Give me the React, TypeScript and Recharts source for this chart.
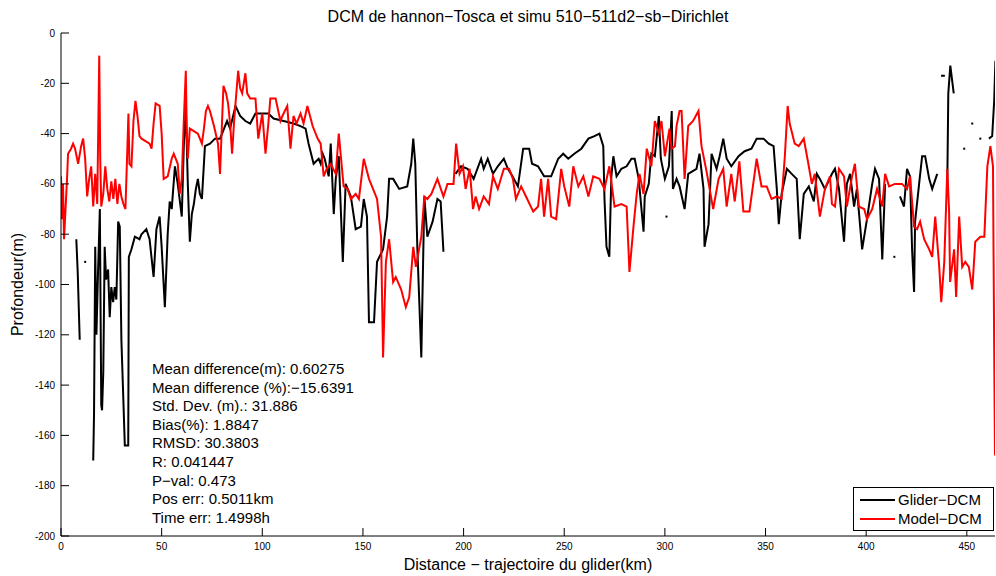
import React from 'react';
import { ComposedChart, Line, Scatter, XAxis, YAxis } from 'recharts';

const TITLE = 'DCM de hannon\u2212Tosca et simu 510\u2212511d2\u2212sb\u2212Dirichlet';
const X_LABEL = 'Distance \u2212 trajectoire du glider(km)';
const Y_LABEL = 'Profondeur(m)';
const GLIDER_NAME = 'Glider\u2212DCM';
const MODEL_NAME = 'Model\u2212DCM';

const X_TICKS = [0, 50, 100, 150, 200, 250, 300, 350, 400, 450];
const Y_TICKS = [-200, -180, -160, -140, -120, -100, -80, -60, -40, -20, 0];

const STATS = [
  'Mean difference(m): 0.60275',
  'Mean difference (%):\u221215.6391',
  'Std. Dev. (m).: 31.886',
  'Bias(%): 1.8847',
  'RMSD: 30.3803',
  'R: 0.041447',
  'P\u2212val: 0.473',
  'Pos err: 0.5011km',
  'Time err: 1.4998h',
];

// Model (red) DCM series
const modelKm = [
  0, 0.5, 1, 1.5, 2.5, 3, 3.5, 5, 6, 7, 8.5, 10, 11, 12, 13, 14, 15, 16, 17, 18, 19, 19.5, 20, 21, 22, 23, 24, 25, 26, 27, 28, 29, 30, 31, 32, 33, 33.5, 34, 35, 36, 37, 38, 39, 40, 42, 44, 45, 46, 47, 49, 50, 51, 53, 55, 56, 58, 59, 60, 61, 62, 62.5, 63, 64, 66, 68, 70, 71, 72, 73, 74, 76, 78, 79, 80.7, 82, 83, 84, 85, 86, 88, 89, 90, 91.6, 92.5, 94, 96.6, 98, 100, 101.6, 103, 104, 106.6, 109, 110, 112.4, 114, 115.5, 117, 119, 120.5, 122.4, 125, 127.5, 129, 130.5, 132, 134, 136.5, 138, 140.4, 142.4, 144, 146.4, 148, 150.4, 153, 155, 157, 159, 160, 161.4, 163, 165, 166.3, 169, 171.3, 173, 175, 176.3, 179, 180.5, 182, 184, 187, 190, 192, 195, 196.3, 198, 199.7, 201, 203, 204.7, 206, 207.7, 210, 212.6, 214.6, 217, 220, 222.6, 224.5, 226, 228.6, 231, 234.6, 237, 238.5, 240, 242, 243.5, 246, 248.5, 250, 252.5, 254.5, 257, 259.5, 262, 264.4, 267.5, 270, 272.4, 275, 278.4, 281, 282.4, 284.4, 286, 287.4, 289.4, 291, 293.3, 295, 297, 298.3, 300, 302.3, 303.3, 305, 305.8, 307.3, 308.3, 309.8, 311.6, 314, 316.7, 318.2, 320.7, 324, 326.7, 329, 330.7, 333, 334.7, 337, 339, 342, 345.6, 348, 350.6, 353, 355.6, 358, 359.6, 361, 362, 364.5, 366.5, 369, 371.5, 373, 374.5, 377, 379.5, 382, 383, 384.5, 386.5, 389, 390.4, 393, 394.4, 396.4, 399, 400.4, 403, 405.4, 408, 409.4, 411.4, 414.3, 417.8, 420.3, 421.8, 423.8, 425.3, 426.8, 428.8, 431.3, 432.8, 434.3, 436.3, 437.3, 438.8, 440.3, 441.2, 441.7, 443.7, 444.7, 446.2, 447.7, 449.2, 451, 452.7, 454.2, 456.7, 458.7, 460.2, 461.7, 463, 463.6, 464,
];
const modelDepth = [
  -57, -74, -60, -82, -66, -58, -48, -46, -44, -46, -52, -45, -42, -50, -65, -58, -53, -69, -56, -68, -9, -50, -69, -64, -53, -62, -67, -59, -66, -58, -68, -60, -65, -68, -70, -45, -32, -52, -53, -35, -27, -33, -41, -42, -43, -44, -46, -36, -28, -29, -40, -58, -57, -50, -48, -52, -64, -58, -35, -15, -40, -50, -38, -39, -40, -44, -38, -31, -29, -31, -37, -44, -56, -21, -24, -28, -36, -48, -35, -15, -22, -24, -16, -24, -26, -26, -42, -32, -48, -36, -26, -26, -35, -33, -29, -46, -33, -36, -32, -36, -29, -37, -42, -44, -57, -54, -52, -56, -40, -61, -62, -66, -64, -66, -50, -58, -62, -66, -81, -129, -91, -82, -99, -97, -102, -109, -105, -85, -93, -81, -65, -66, -64, -58, -65, -60, -60, -44, -56, -53, -62, -54, -70, -65, -70, -65, -68, -57, -62, -54, -54, -58, -66, -61, -65, -71, -69, -58, -73, -58, -73, -74, -54, -61, -69, -53, -61, -57, -65, -57, -58, -62, -53, -69, -68, -69, -95, -77, -64, -56, -64, -46, -53, -35, -40, -35, -49, -38, -46, -45, -37, -31, -31, -58, -37, -35, -31, -45, -55, -70, -58, -54, -69, -56, -67, -51, -71, -71, -50, -61, -61, -66, -65, -66, -49, -29, -36, -44, -45, -42, -53, -60, -56, -73, -62, -57, -68, -69, -54, -57, -69, -57, -52, -69, -70, -74, -70, -62, -69, -56, -61, -60, -60, -62, -57, -77, -78, -75, -82, -86, -89, -73, -93, -107, -91, -54, -71, -99, -86, -105, -73, -93, -91, -93, -102, -83, -81, -81, -53, -45, -53, -126, -168,
];

// Glider (black) DCM series, null = gap in the measurements
const gliderKm = [
  7.6, 8.3, 9.3, 10,
  16, 16.4, 17, 17.6, 18.4, 19.3, 20, 20.4, 21, 21.7, 22.4, 23.4, 24.2, 25, 25.9, 26.7, 27.5, 28.4, 29.2, 30, 30.9, 31.7, 33.4, 33.7, 35, 36.7, 39, 40, 42.4, 44, 46, 47.4, 49, 50, 51.6, 53, 54, 55, 56.6, 58, 60, 61, 62, 63, 64, 65, 66, 67, 68, 69, 70, 71.5, 74, 76.5, 79, 82.5, 84, 86.7, 89, 91.6, 94, 96.6, 100.6, 103, 105.6, 110.6, 115.5, 119, 121.5, 123, 125.5, 128, 129, 130, 131, 133, 134, 135.5, 136.5, 138, 140, 141.4, 144, 146.4, 149, 150.4, 152, 153, 155.5, 157, 160, 162, 163, 165, 168, 172, 174, 175, 176, 177, 179, 180.5, 182, 184.6, 187, 188.6, 190, 191,
  196, 198.7, 202, 205, 208.7, 210, 212, 214.6, 217, 220, 222, 223.6, 227, 229.6, 232.6, 234, 237, 240, 243.5, 247, 249.5, 252, 255, 258.5, 262, 265, 267.5, 269.4, 270, 271, 272.4, 273.4, 274.4, 276, 278.4, 281, 283.4, 285, 287, 289.4, 290, 292, 293.3, 295, 297, 298, 300, 302, 303.4, 304, 305.8, 307.3, 309.8, 311.6, 315.7, 317.2, 319.2, 319.7, 321.7, 323.2, 325.7, 327.2, 329, 330.7, 333, 336.6, 339.6, 343, 345.6, 349, 351.6, 354, 355.6, 356.6, 358, 360.6, 363, 365.5, 367, 369, 371.5, 374, 375.5, 377, 379.5, 383, 384.5, 386.5, 389, 390.4, 392, 394, 395.4, 398, 400.4, 403, 404.4, 406.4, 408, 409.4, 410,
  416.8, 418.8, 420.3, 421.8, 422.8, 423.8, 424.3, 426.3, 427.8, 429.3, 431.3, 432.8, 435.3, 436,
  440.3, 440.8, 441.8, 443.5, 444,
  461, 462.6, 463.6, 464.2, 464.6,
];
const gliderDepth = [
  -82, -95, -122, null,
  -170, -152, -85, -120, -95, -70, -148, -150, -135, -85, -98, -94, -113, -101, -107, -101, -106, -75, -77, -122, -144, -164, -164, -89, -86, -81, -82, -80, -78, -82, -97, -78, -73, -85, -109, -80, -67, -70, -53, -60, -73, -45, -29, -60, -83, -72, -68, -62, -58, -64, -66, -45, -44, -42, -42, -35, -38, -29, -33, -35, -36, -32, -32, -32, -34, -35, -36, -37, -38, -44, -52, -50, -52, -48, -50, -57, -44, -72, -58, -49, -91, -60, -65, -78, -77, -66, -73, -115, -115, -91, -86, -73, -58, -58, -62, -61, -52, -42, -52, -85, -129, -65, -81, -75, -66, -67, -87, null,
  -56, -53, -54, -58, -50, -54, -50, -56, -53, -50, -54, -56, -61, -46, -46, -52, -53, -57, -57, -50, -48, -50, -48, -46, -42, -41, -40, -45, -66, -85, -89, -57, -49, -57, -54, -53, -50, -50, -58, -79, -65, -60, -48, -49, -33, -50, -58, -53, -31, -62, -58, -61, -70, -56, -54, -48, -62, -85, -76, -48, -54, -49, -42, -50, -53, -49, -47, -46, -42, -42, -44, -45, -62, -76, -64, -54, -56, -58, -82, -64, -61, -67, -56, -58, -62, -56, -54, -62, -83, -60, -56, -69, -62, -86, -74, -60, -54, -58, -90, -60, null,
  -65, -69, -54, -57, -86, -103, -75, -60, -49, -49, -58, -62, -56, null,
  -60, -24, -13, -24, null,
  -42, -41, -27, -11, -29,
];

// Isolated single glider points
const dotKm = [12, 300.8, 414, 437.7, 438.6, 448.7, 452.7, 456.7];
const dotDepth = [-91, -73, -89, -17, -17, -46, -36, -42];

const modelData = modelKm.map((km, i) => ({ km, depth: modelDepth[i] }));
const gliderData = gliderKm.map((km, i) => ({ km, depth: gliderDepth[i] }));
const dotData = dotKm.map((km, i) => ({ km, depth: dotDepth[i] }));

const FONT = '"Liberation Sans", Arial, Helvetica, sans-serif';

const YTick = (props: any) => {
  const { x, y, payload } = props;
  return (
    <g>
      <line x1={x + 6} x2={x + 14} y1={y} y2={y} stroke="#000" strokeWidth={1} />
      <text x={x} y={y} dy="0.35em" textAnchor="end" fontSize={10} fontFamily={FONT} fill="#000">
        {payload.value}
      </text>
    </g>
  );
};

const XTick = (props: any) => {
  const { x, y, payload } = props;
  return (
    <g>
      <line x1={x} x2={x} y1={y - 7} y2={y - 15} stroke="#000" strokeWidth={1} />
      <text x={x} y={y} dy="0.71em" textAnchor="middle" fontSize={10} fontFamily={FONT} fill="#000">
        {payload.value}
      </text>
    </g>
  );
};

const DotShape = (props: any) => {
  const { cx, cy } = props;
  return <rect x={cx - 1} y={cy - 1} width={2} height={2} fill="#000" />;
};

const LEGEND_ITEMS = [
  { name: GLIDER_NAME, color: '#000000' },
  { name: MODEL_NAME, color: '#ff0000' },
];

export default function App() {
  return (
    <div style={{ position: 'absolute', left: 0, top: 0, width: 996, height: 576, background: '#fff' }}>
      <ComposedChart
        width={996}
        height={576}
        margin={{ top: 33, right: 1, bottom: 0, left: 0 }}
        style={{ position: 'absolute', left: 0, top: 0 }}
      >
        <XAxis
          dataKey="km"
          type="number"
          domain={[0, 464]}
          ticks={X_TICKS}
          allowDataOverflow
          height={40}
          stroke="#000"
          tickLine={false}
          tickSize={0}
          tickMargin={7}
          tick={<XTick />}
          label={{ value: X_LABEL, position: 'insideBottom', offset: 6, style: { fontFamily: FONT, fontSize: 16, fill: '#000' } }}
        />
        <YAxis
          dataKey="depth"
          type="number"
          domain={[-200, 0]}
          ticks={Y_TICKS}
          allowDataOverflow
          width={61}
          stroke="#000"
          tickLine={false}
          tickSize={0}
          tickMargin={6}
          tick={<YTick />}
          label={{ value: Y_LABEL, angle: -90, position: 'insideLeft', offset: 17, style: { textAnchor: 'middle', fontFamily: FONT, fontSize: 16, fill: '#000' } }}
        />
        <Line
          data={gliderData}
          dataKey="depth"
          name={GLIDER_NAME}
          type="linear"
          stroke="#000000"
          strokeWidth={2}
          dot={false}
          connectNulls={false}
          isAnimationActive={false}
        />
        <Line
          data={modelData}
          dataKey="depth"
          name={MODEL_NAME}
          type="linear"
          stroke="#ff0000"
          strokeWidth={2}
          dot={false}
          isAnimationActive={false}
        />
        <Scatter data={dotData} dataKey="depth" fill="#000" shape={<DotShape />} isAnimationActive={false} />
      </ComposedChart>
      <div
        style={{
          position: 'absolute',
          left: 61,
          width: 934,
          top: 7,
          textAlign: 'center',
          fontFamily: FONT,
          fontSize: 16,
          lineHeight: '20px',
          color: '#000',
          whiteSpace: 'nowrap',
        }}
      >
        {TITLE}
      </div>
      <div
        style={{
          position: 'absolute',
          left: 152,
          top: 360,
          fontFamily: FONT,
          fontSize: 15,
          lineHeight: '18.6px',
          color: '#000',
          whiteSpace: 'nowrap',
        }}
      >
        {STATS.map((s) => (
          <div key={s}>{s}</div>
        ))}
      </div>
      <div
        style={{
          position: 'absolute',
          left: 853,
          top: 487,
          width: 139,
          height: 42,
          border: '1px solid #000',
          background: '#fff',
          fontFamily: FONT,
          fontSize: 15,
          color: '#000',
        }}
      >
        {LEGEND_ITEMS.map((it, i) => (
          <div
            key={it.name}
            style={{ position: 'absolute', left: 0, top: 2 + i * 19, height: 19, display: 'flex', alignItems: 'center' }}
          >
            <div style={{ marginLeft: 6, width: 35, height: 2, background: it.color }} />
            <span style={{ marginLeft: 3, whiteSpace: 'nowrap' }}>{it.name}</span>
          </div>
        ))}
      </div>
    </div>
  );
}
